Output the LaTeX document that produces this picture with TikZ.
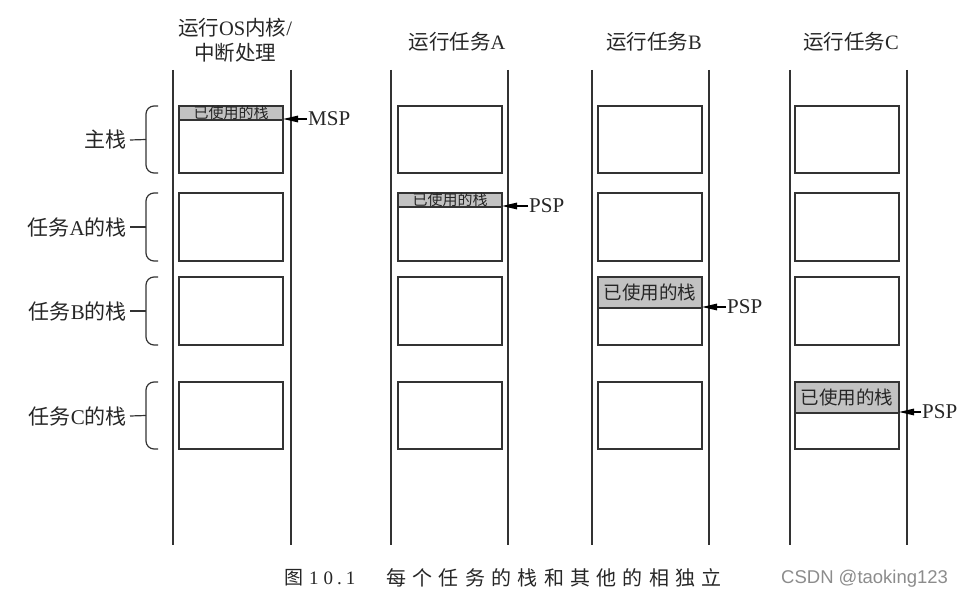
\documentclass[tikz,border=0pt]{standalone}
\usepackage{fontspec}
\setmainfont{Liberation Serif}
\newfontfamily\cjk{Noto Sans CJK SC}
\newfontfamily\wmfont{Liberation Sans}
\usetikzlibrary{arrows.meta}
\newcommand\capgap{\hspace{6.3pt}}
\begin{document}
\begin{tikzpicture}[x=1pt,y=-1pt,
  wall/.style={line width=1.3pt, draw=black!80},
  stackbox/.style={line width=1.3pt, draw=black!80, inner sep=0pt, outer sep=0pt, anchor=north west, minimum width=104pt},
  usedbox/.style={line width=1.1pt, draw=black!80, fill=black!24, inner sep=0pt, outer sep=0pt, anchor=north west, minimum width=104pt},
  usedsmall/.style={font=\cjk\fontsize{15}{15}\selectfont, text=black!85, inner sep=0pt},
  usedbig/.style={font=\cjk\fontsize{18.5}{19}\selectfont, text=black!85, inner sep=0pt},
  title/.style={font=\fontsize{20.5}{25}\selectfont, text=black!85, align=center, inner sep=0pt},
  side/.style={font=\fontsize{21}{22}\selectfont, text=black!85, anchor=east, inner sep=0pt},
  reg/.style={font=\fontsize{21}{22}\selectfont, text=black!85, anchor=west, inner sep=1pt},
  ptr/.style={line width=1.3pt, draw=black, -{Triangle[length=15pt,width=6.5pt]}},
  bracestyle/.style={line width=1.2pt, draw=black!80, rounded corners=8pt},
  tick/.style={line width=1.2pt, draw=black!80},
]
\useasboundingbox (0,0) rectangle (967,599);

% column walls
\foreach \xa in {173,291,391,508,592,709,790,907}
  \draw[wall] (\xa,70) -- (\xa,545);

% stack boxes
\foreach \c/\bx in {1/179,2/398,3/598,4/795}{
  \node[stackbox, minimum height=67pt] (b\c1) at (\bx,106) {};
  \node[stackbox, minimum height=68pt] (b\c2) at (\bx,193) {};
  \node[stackbox, minimum height=68pt] (b\c3) at (\bx,277) {};
  \node[stackbox, minimum height=67pt] (b\c4) at (\bx,382) {};
}

% titles
\node[title] (t1) at (235,40) {{\cjk 运行}OS{\cjk 内核}/\\{\cjk 中断处理}};
\node[title] (t2) at (457,42) {{\cjk 运行任务}A};
\node[title] (t3) at (654,42) {{\cjk 运行任务}B};
\node[title] (t4) at (851,42) {{\cjk 运行任务}C};

% side labels with braces
\node[side] (s1) at (127,140) {\cjk 主栈};
\node[side] (s2) at (127,227) {{\cjk 任务}A{\cjk 的栈}};
\node[side] (s3) at (127,311) {{\cjk 任务}B{\cjk 的栈}};
\node[side] (s4) at (127,416) {{\cjk 任务}C{\cjk 的栈}};
\foreach \r/\ta/\tb in {1/106/173, 2/193/261, 3/277/345, 4/382/449}{
  \draw[bracestyle] (158,\ta) -- (146,\ta) -- (146,\tb) -- (158,\tb);
  \coordinate (m\r) at (146,{(\ta+\tb)/2});
}
\draw[tick] ([xshift=3pt]s1.east) -- (m1);
\draw[tick] ([xshift=3pt]s2.east) -- (m2);
\draw[tick] ([xshift=3pt]s3.east) -- (m3);
\draw[tick] ([xshift=3pt]s4.east) -- (m4);

% used parts of the stacks
\node[usedbox, minimum height=14pt] (u1) at (179,106) {};
\node[usedsmall] (ut1) at (u1.center) {已使用的栈};
\node[usedbox, minimum height=14pt] (u2) at (398,193) {};
\node[usedsmall] (ut2) at (u2.center) {已使用的栈};
\node[usedbox, minimum height=31pt] (u3) at (598,277) {};
\node[usedbig] (ut3) at (u3.center) {已使用的栈};
\node[usedbox, minimum height=31pt] (u4) at (795,382) {};
\node[usedbig] (ut4) at (u4.center) {已使用的栈};

% stack pointers
\node[reg] (msp) at (307,119) {MSP};
\node[reg] (psp1) at (528,206) {PSP};
\node[reg] (psp2) at (726,307) {PSP};
\node[reg] (psp3) at (921,412) {PSP};
\draw[ptr] (msp.west) -- (msp.west -| u1.east);
\draw[ptr] (psp1.west) -- (psp1.west -| u2.east);
\draw[ptr] (psp2.west) -- (psp2.west -| u3.east);
\draw[ptr] (psp3.west) -- (psp3.west -| u4.east);

% caption
\node[font=\fontsize{19}{20}\selectfont, text=black!85, anchor=west, inner sep=0pt] (capn) at (284,578)
  {{\cjk 图}\hspace{6pt}1\hspace{5pt}0\hspace{4pt}.\hspace{4pt}1};
\node[font=\cjk\fontsize{20}{21}\selectfont, text=black!85, anchor=west, inner sep=0pt] (capt) at (386,578)
  {每\capgap 个\capgap 任\capgap 务\capgap 的\capgap 栈\capgap 和\capgap 其\capgap 他\capgap 的\capgap 相\capgap 独\capgap 立};
\node[font=\wmfont\fontsize{18.5}{19}\selectfont, text=black!45, anchor=west, inner sep=0pt] (wm) at (781,579) {CSDN @taoking123};
\end{tikzpicture}
\end{document}
